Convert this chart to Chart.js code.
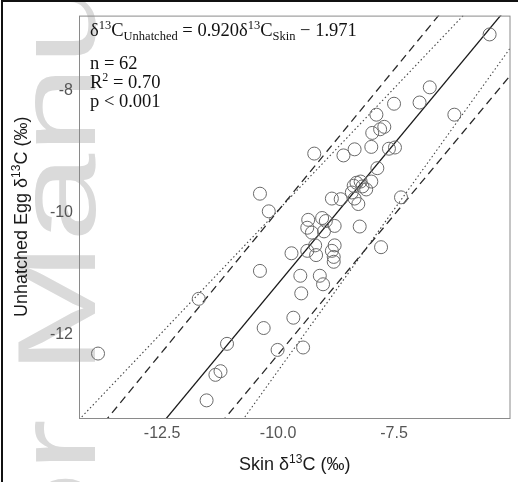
<!DOCTYPE html>
<html>
<head>
<meta charset="utf-8">
<script src="https://cdn.jsdelivr.net/npm/chart.js"></script>
<style>
html, body { margin: 0; padding: 0; background: #fff; }
</style>
</head>
<body>
<canvas id="myChart" width="518" height="482"></canvas>
<script>
// skin vs unhatched egg d13C
const skinC = [-5.44, -6.73, -6.95, -7.50, -6.20, -7.88, -7.97, -7.80, -7.71, -7.99,
  -8.35, -8.59, -9.22, -7.61, -7.48, -7.86, -7.99, -8.31, -8.22, -8.41,
  -8.10, -8.84, -8.65, -8.35, -8.27, -7.35, -10.39, -10.20, -9.35, -9.05,
  -8.97, -9.37, -9.27, -8.78, -9.01, -8.24, -7.78, -8.78, -9.20, -9.71,
  -9.37, -9.18, -8.84, -8.80, -8.80, -10.39, -9.52, -9.10, -9.03, -9.50,
  -9.67, -10.31, -10.01, -9.46, -11.71, -13.88, -11.10, -11.24, -11.35, -11.54,
  -8.18, -8.37];
const eggC = [-7.07, -7.94, -8.19, -8.21, -8.39, -8.39, -8.69, -8.63, -8.59, -8.92,
  -8.96, -9.06, -9.03, -8.95, -8.93, -9.27, -9.49, -9.51, -9.49, -9.67,
  -9.62, -9.77, -9.78, -9.77, -9.86, -9.75, -9.69, -9.98, -10.12, -10.09,
  -10.14, -10.25, -10.33, -10.22, -10.31, -10.23, -10.57, -10.54, -10.54, -10.67,
  -10.63, -10.70, -10.63, -10.73, -10.81, -10.96, -11.04, -11.04, -11.18, -11.33,
  -11.73, -11.90, -12.26, -12.22, -11.42, -12.32, -12.16, -12.61, -12.67, -13.09,
  -9.57, -9.56];

const xTicks = [-12.5, -10.0, -7.5];
const yTicks = [-8, -10, -12];
const xRange = [-14.29, -4.99];
const yRange = [-13.38, -6.76];

// [slope, intercept]
const fitLine = [0.920, -1.971];
const dashedUpper = [0.929, -0.682];
const dashedLower = [0.917, -3.165];
const dottedUpper = [0.803, -1.934];
const dottedLower = [1.061, -1.994];

const statText = [
  [{t: 'n = 62', s: 18.5}],
  [{t: 'R', s: 18.5}, {t: '2', s: 12, dy: -7}, {t: ' = 0.70', s: 18.5}],
  [{t: 'p < 0.001', s: 18.5}]
];
const eqText = [{t: 'δ', s: 18.5}, {t: '13', s: 12.5, dy: -7}, {t: 'C', s: 18.5}, {t: 'Unhatched', s: 12.5, dy: 4},
  {t: ' = 0.920δ', s: 18.5}, {t: '13', s: 12.5, dy: -7}, {t: 'C', s: 18.5}, {t: 'Skin', s: 12.5, dy: 4},
  {t: ' − 1.971', s: 18.5}];
const xTitle = [{t: 'Skin δ', s: 18}, {t: '13', s: 12, dy: -7}, {t: 'C (‰)', s: 18}];
const yTitle = [{t: 'Unhatched Egg δ', s: 18}, {t: '13', s: 12, dy: -7}, {t: 'C (‰)', s: 18}];

const SANS = '"Liberation Sans", Arial, sans-serif';
const SERIF = '"Liberation Serif", "Times New Roman", serif';

function lineData(c) {
  return xRange.map(x => ({x: x, y: c[0] * x + c[1]}));
}

function richWidth(c, parts, fam) {
  let w = 0;
  parts.forEach(p => { c.font = p.s + 'px ' + fam; w += c.measureText(p.t).width; });
  return w;
}
function drawRich(c, parts, x, y, fam) {
  let cx = x;
  parts.forEach(p => {
    c.font = p.s + 'px ' + fam;
    c.fillText(p.t, cx, y + (p.dy || 0));
    cx += c.measureText(p.t).width;
  });
}

const deco = {
  id: 'deco',
  beforeDraw(chart) {
    const c = chart.ctx;
    c.save();
    c.fillStyle = '#fff';
    c.fillRect(0, 0, chart.width, chart.height);
    // faint watermark
    c.fillStyle = '#dadada';
    c.font = '112px ' + SANS;
    c.textBaseline = 'alphabetic';
    const pre = c.measureText('Autho').width;
    c.translate(95, 472);
    c.rotate(-Math.PI / 2);
    c.scale(1.42, 1);
    c.fillText('Author Manuscript', -pre, 0);
    c.restore();
  },
  afterDraw(chart) {
    const c = chart.ctx;
    const a = chart.chartArea;
    c.save();
    c.strokeStyle = '#8a8a8a';
    c.lineWidth = 1;
    c.strokeRect(a.left + 0.5, a.top + 0.5, a.right - a.left - 1, a.bottom - a.top);
    c.strokeStyle = '#111';
    c.lineWidth = 2;
    c.beginPath();
    c.moveTo(2, 482); c.lineTo(2, 1); c.lineTo(518, 1);
    c.stroke();

    c.fillStyle = '#111';
    c.textBaseline = 'alphabetic';
    drawRich(c, eqText, 90, 36, SERIF);
    statText.forEach((p, i) => drawRich(c, p, 90, [69, 88, 107][i], SERIF));

    c.fillStyle = '#1a1a1a';
    const cxm = (a.left + a.right) / 2;
    drawRich(c, xTitle, cxm - richWidth(c, xTitle, SANS) / 2, 470, SANS);
    const cym = (a.top + a.bottom) / 2;
    c.translate(27, cym);
    c.rotate(-Math.PI / 2);
    drawRich(c, yTitle, -richWidth(c, yTitle, SANS) / 2, 0, SANS);
    c.restore();
  }
};

const ctx = document.getElementById('myChart');

new Chart(ctx, {
  type: 'scatter',
  data: {
    datasets: [{
      data: skinC.map((x, i) => ({x: x, y: eggC[i]})),
      pointRadius: 6.5,
      pointBorderWidth: 1,
      pointBorderColor: '#6b6b6b',
      pointBackgroundColor: 'rgba(0,0,0,0)'
    }, {
      data: lineData(fitLine), showLine: true, pointRadius: 0,
      borderColor: '#1a1a1a', borderWidth: 1.3
    }, {
      data: lineData(dashedUpper), showLine: true, pointRadius: 0,
      borderColor: '#2a2a2a', borderWidth: 1.3, borderDash: [8, 5]
    }, {
      data: lineData(dashedLower), showLine: true, pointRadius: 0,
      borderColor: '#2a2a2a', borderWidth: 1.3, borderDash: [8, 5]
    }, {
      data: lineData(dottedUpper), showLine: true, pointRadius: 0,
      borderColor: '#444', borderWidth: 1.1, borderDash: [1.5, 2.5]
    }, {
      data: lineData(dottedLower), showLine: true, pointRadius: 0,
      borderColor: '#444', borderWidth: 1.1, borderDash: [1.5, 2.5]
    }]
  },
  options: {
    responsive: false,
    animation: false,
    devicePixelRatio: 1,
    layout: { padding: { top: 6, right: 2, left: 0, bottom: 0 } },
    plugins: { legend: { display: false }, tooltip: { enabled: false } },
    scales: {
      x: {
        type: 'linear',
        min: xRange[0],
        max: xRange[1],
        grid: { display: false, drawTicks: false },
        border: { display: false },
        ticks: {
          padding: 6,
          color: '#555',
          font: { size: 16, family: SANS },
          callback: v => v.toFixed(1)
        },
        afterBuildTicks: ax => { ax.ticks = xTicks.map(v => ({value: v})); },
        afterFit: ax => { ax.height = 64; }
      },
      y: {
        type: 'linear',
        min: yRange[0],
        max: yRange[1],
        grid: { display: false, drawTicks: false },
        border: { display: false },
        ticks: {
          padding: 6,
          color: '#555',
          font: { size: 16, family: SANS },
          callback: v => String(v)
        },
        afterBuildTicks: ax => { ax.ticks = yTicks.map(v => ({value: v})); },
        afterFit: ax => { ax.width = 79; }
      }
    }
  },
  plugins: [deco]
});
</script>
</body>
</html>
